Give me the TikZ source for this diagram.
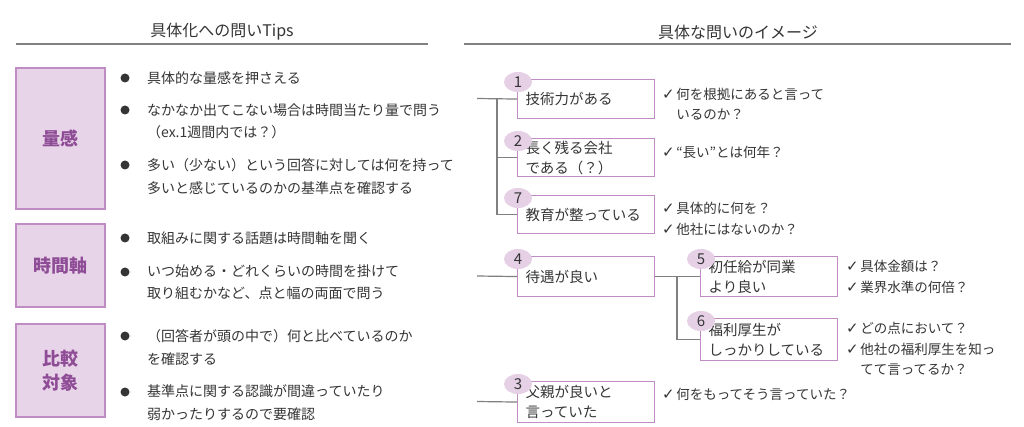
\documentclass[tikz,border=0pt]{standalone}
\usepackage{fontspec}
\setmainfont{Noto Sans CJK JP}
\newfontfamily\symfont{DejaVu Sans}
\usepackage{tikz}
\usetikzlibrary{positioning}
\usetikzlibrary{shapes.geometric}
\definecolor{boxfill}{HTML}{E8D4E8}
\definecolor{boxline}{HTML}{C08CC4}
\definecolor{badgefill}{HTML}{E6D0E6}
\definecolor{labeltext}{HTML}{8E4C96}
\definecolor{bodytext}{HTML}{353535}
\definecolor{treeline}{HTML}{808080}
\newcommand{\chk}{{\symfont\fontsize{15}{15}\selectfont ✓}\hspace{1.5pt}}
\newcommand{\chkgap}{\hphantom{\chk}}

\begin{document}
\begin{tikzpicture}[x=1pt,y=-1pt]
	
	\tikzset{
		topic/.style={
			draw=boxline, fill=boxfill, line width=1.1pt,
			minimum width=89pt, minimum height=#1,
			inner sep=0pt, align=center, text=labeltext,
			font=\fontsize{18}{24}\selectfont\bfseries
		},
		topic/.default=84pt,
		dot/.style={circle, fill=bodytext, minimum size=9pt, inner sep=0pt},
		tip/.style={anchor=west, inner sep=0pt, align=left, text=bodytext,
			font=\fontsize{14}{22.5}\selectfont},
		head/.style={inner sep=0pt, text=bodytext, font=\fontsize{16}{18}\selectfont},
		rule/.style={draw=treeline, line width=1.2pt},
		item/.style={
			draw=boxline, line width=1.1pt, fill=white, anchor=north west,
			minimum width=137pt, minimum height=#1,
			text width=121pt, inner xsep=8pt, inner ysep=0pt,
			align=left, text=bodytext,
			font=\fontsize{14.5}{20}\selectfont
		},
		item/.default=39pt,
		badge/.style={
			ellipse, fill=badgefill, minimum width=28pt, minimum height=20pt,
			inner sep=0pt, text=bodytext, font=\fontsize{15}{15}\selectfont
		},
		note/.style={anchor=west, inner sep=0pt, align=left, text=bodytext,
			font=\fontsize{13.5}{20.5}\selectfont},
		tree/.style={draw=treeline, line width=1.2pt}
	}
	
	\path[fill=white, use as bounding box] (0,0) rectangle (1024,427);
	
	% headers
	\node[head] (lhead) at (222,32) {具体化への問いTips};
	\node[head] (rhead) at (738,32) {具体な問いのイメージ};
	\coordinate (lruleA) at (16,44);
	\coordinate (lruleB) at (428,44);
	\coordinate (rruleA) at (464,44);
	\coordinate (rruleB) at (1011,44);
	\draw[rule] (lruleA) -- (lruleB);
	\draw[rule] (rruleA) -- (rruleB);
	
	% left: tips
	\node[topic=141pt] (qty) at (60.5,138.5) {量感};
	\node[topic=83pt] (timeaxis) at (60.5,265.5) {時間軸};
	\node[topic=93pt] (compare) at (60.5,370.5) {比較\\対象};
	
	\foreach \y in {78,110,165,238,272,336,392}
		\node[dot] (dot\y) at (125,\y) {};
	
	\node[tip] (tip1) at (147,78) {具体的な量感を押さえる};
	\node[tip] (tip2) at (147,121.5) {なかなか出てこない場合は時間当たり量で問う\\（ex.1週間内では？）};
	\node[tip] (tip3) at (147,176.5) {多い（少ない）という回答に対しては何を持って\\多いと感じているのかの基準点を確認する};
	\node[tip] (tip4) at (147,238) {取組みに関する話題は時間軸を聞く};
	\node[tip] (tip5) at (147,282) {いつ始める・どれくらいの時間を掛けて\\取り組むかなど、点と幅の両面で問う};
	\node[tip] (tip6) at (147,347.5) {（回答者が頭の中で）何と比べているのか\\を確認する};
	\node[tip] (tip7) at (147,402.5) {基準点に関する認識が間違っていたり\\弱かったりするので要確認};
	
	% right: question tree
	\node[item] (tech) at (517,79) {技術力がある};
	\node[item=38pt] (longlive) at (517,138) {長く残る会社\\である（？）};
	\node[item=38pt] (edu) at (517,195) {教育が整っている};
	\node[item=40pt] (pay) at (517,256) {待遇が良い};
	\node[item=40pt] (salary) at (700,256) {初任給が同業\\より良い};
	\node[item=42pt] (welfare) at (700,318) {福利厚生が\\しっかりしている};
	\node[item=41pt] (father) at (517,381) {父親が良いと\\言っていた};
	
	\foreach \itm/\num in {tech/1,longlive/2,edu/7,pay/4,salary/5,welfare/6,father/3}
		\node[badge] (badge\num) at ([xshift=1pt,yshift=-3pt]\itm.north west) {\num};
	
	\coordinate (rootA) at (477,98.5);
	\coordinate (joinA) at (497,98.5);
	\coordinate (rootB) at (477,276);
	\coordinate (joinB) at (677,276);
	\coordinate (rootC) at (477,401.5);
	\draw[tree] (rootA) -- (tech.west);
	\draw[tree] (joinA) |- (longlive.west);
	\draw[tree] (joinA) |- (edu.west);
	\draw[tree] (rootB) -- (pay.west);
	\draw[tree] (pay.east) -- (salary.west);
	\draw[tree] (joinB) |- (welfare.west);
	\draw[tree] (rootC) -- (father.west);
	
	\node[note] (ask1) at (662,104) {\chk 何を根拠にあると言って\\\chkgap いるのか？};
	\node[note] (ask2) at (662,152) {\chk “長い”とは何年？};
	\node[note] (ask7) at (662,219) {\chk 具体的に何を？\\\chk 他社にはないのか？};
	\node[note] (ask5) at (846,277) {\chk 具体金額は？\\\chk 業界水準の何倍？};
	\node[note] (ask6) at (846,349) {\chk どの点において？\\\chk 他社の福利厚生を知っ\\\chkgap てて言ってるか？};
	\node[note] (ask3) at (662,394) {\chk 何をもってそう言っていた？};
	
\end{tikzpicture}
\end{document}
